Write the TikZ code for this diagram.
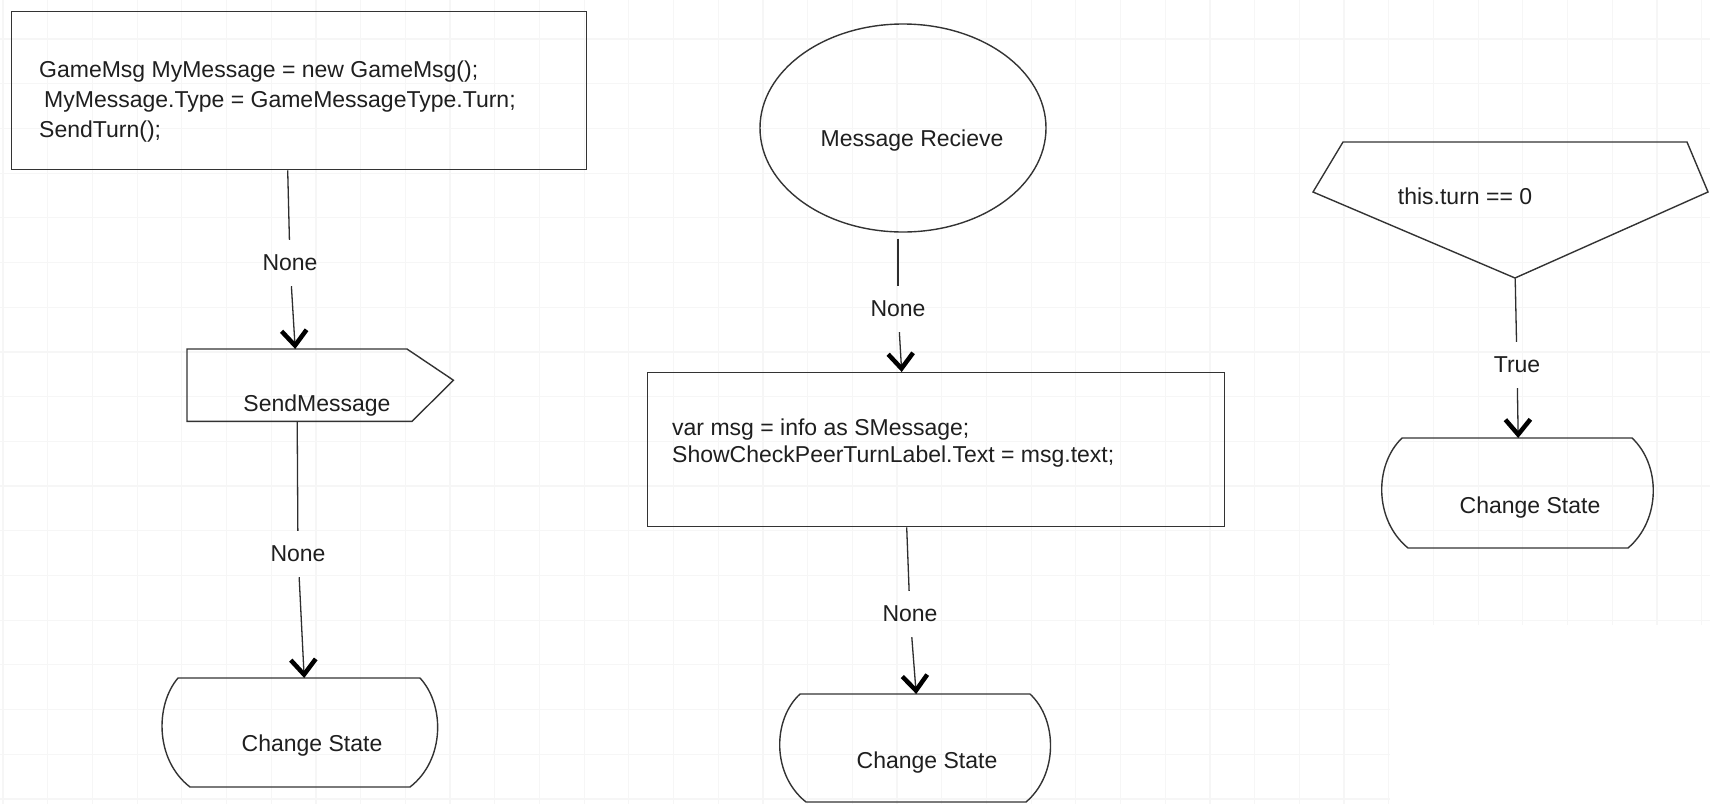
\documentclass[tikz,border=0pt]{standalone}
\usepackage{fontspec}
\setmainfont{Liberation Sans}
\usetikzlibrary{arrows.meta,shapes.geometric}
\begin{document}
\begin{tikzpicture}[x=1pt,y=-1pt,
  gridline/.style={draw=black!3.5, line width=1.2pt},
  shapeline/.style={draw=black!80, line width=1.4pt, line join=miter},
  conn/.style={draw=black!82, line width=1.3pt},
  arr/.style={conn, -{Straight Barb[length=15pt,width=25pt,line width=4.5pt 0,color=black]}},
  lbl/.style={font=\fontsize{23}{28}\selectfont, text=black!88, inner xsep=2pt, inner ysep=15pt},
  word/.style={font=\fontsize{23}{28}\selectfont, text=black!88, inner sep=0pt},
  code/.style={font=\fontsize{23}{30}\selectfont, text=black!88, inner sep=0pt, align=left},
  codeb/.style={font=\fontsize{23}{27}\selectfont, text=black!88, inner sep=0pt, align=left},
  anchorbox/.style={inner sep=0pt, draw=none, rectangle}
]
\useasboundingbox (0,0) rectangle (1710,804);
\fill[white] (0,0) rectangle (1710,804);
% faint background grid
\foreach \i in {0,...,38} \draw[gridline] ({3+44.7*\i},0) -- ({3+44.7*\i},804);
\foreach \j in {1,...,18} \draw[gridline] (0,{-5.7+44.7*\j}) -- (1710,{-5.7+44.7*\j});
\fill[white] (1390,625) rectangle (1710,804);

% ---------- left column ----------
\node[shapeline, rectangle, minimum width=575pt, minimum height=158pt, inner sep=0pt, anchor=north west] (b1) at (11,11) {};
\node[code, anchor=west] (b1t) at (39,102) {GameMsg MyMessage = new GameMsg();\\\hspace*{5pt}MyMessage.Type = GameMessageType.Turn;\\SendTurn();};

\node[anchorbox, minimum width=266pt, minimum height=72pt, anchor=north west] (sm) at (187,349) {};
\draw[shapeline] (sm.north west) -- ([xshift=220pt]sm.north west) -- ([yshift=5pt]sm.east)
  -- ([xshift=225pt]sm.south west) -- (sm.south west) -- cycle;
\node[word] (smt) at (317,406) {SendMessage};

\node[anchorbox, minimum width=242pt, minimum height=109pt, anchor=north west] (cs1) at (178,678) {};
\draw[shapeline] (178,678) -- (420,678) .. controls (445,705) and (445,760) .. (410,787)
  -- (190,787) .. controls (155,760) and (155,705) .. (178,678) -- cycle;
\node[word] (cs1t) at (312,746) {Change State};

\node[lbl] (n1) at (290,263) {None};
\node[lbl] (n2) at (298,554) {None};
\draw[conn] ([xshift=-11.5pt]b1.south) -- (n1);
\draw[arr] (n1) -- ([xshift=-25pt]sm.north);
\draw[conn] ([xshift=-23pt]sm.south) -- (n2);
\draw[arr] (n2) -- ([xshift=5pt]cs1.north);

% ---------- middle column ----------
\node[shapeline, ellipse, minimum width=286pt, minimum height=208pt, inner sep=0pt] (el) at (903,128) {};
\node[word] (elt) at (912,141) {Message Recieve};

\node[shapeline, rectangle, minimum width=577pt, minimum height=154pt, inner sep=0pt, anchor=north west] (b2) at (647,372) {};
\node[codeb, anchor=west] (b2t) at (672,443) {var msg = info as SMessage;\\ShowCheckPeerTurnLabel.Text = msg.text;};

\node[anchorbox, minimum width=230pt, minimum height=108pt, anchor=north west] (cs2) at (800,694) {};
\draw[shapeline] (800,694) -- (1030,694) .. controls (1058,720) and (1058,775) .. (1026,802)
  -- (806,802) .. controls (772,775) and (772,720) .. (800,694) -- cycle;
\node[word] (cs2t) at (927,763) {Change State};

\node[lbl] (n3) at (898,309) {None};
\node[lbl] (n4) at (910,614) {None};
\draw[conn] ([xshift=-5pt,yshift=-6pt]el.south) -- (n3);
\draw[arr] (n3) -- ([xshift=-34.5pt]b2.north);
\draw[conn] ([xshift=-29.5pt]b2.south) -- (n4);
\draw[arr] (n4) -- ([xshift=1pt]cs2.north);

% ---------- right column ----------
\node[anchorbox, minimum width=395pt, minimum height=136pt, anchor=north west] (dec) at (1313,142) {};
\draw[shapeline] (1343,142) -- (1687,142) -- (1708,192) -- (1515,278) -- (1313,192) -- cycle;
\node[word] (dect) at (1465,196) {this.turn == 0};

\node[anchorbox, minimum width=230pt, minimum height=110pt, anchor=north west] (cs3) at (1402,438) {};
\draw[shapeline] (1402,438) -- (1632,438) .. controls (1661,465) and (1661,520) .. (1628,548)
  -- (1408,548) .. controls (1374,520) and (1374,465) .. (1402,438) -- cycle;
\node[word] (cs3t) at (1530,508) {Change State};

\node[lbl] (n5) at (1517,365) {True};
\draw[conn] ([xshift=4.5pt]dec.south) -- (n5);
\draw[arr] (n5) -- ([xshift=1pt]cs3.north);
\end{tikzpicture}
\end{document}
